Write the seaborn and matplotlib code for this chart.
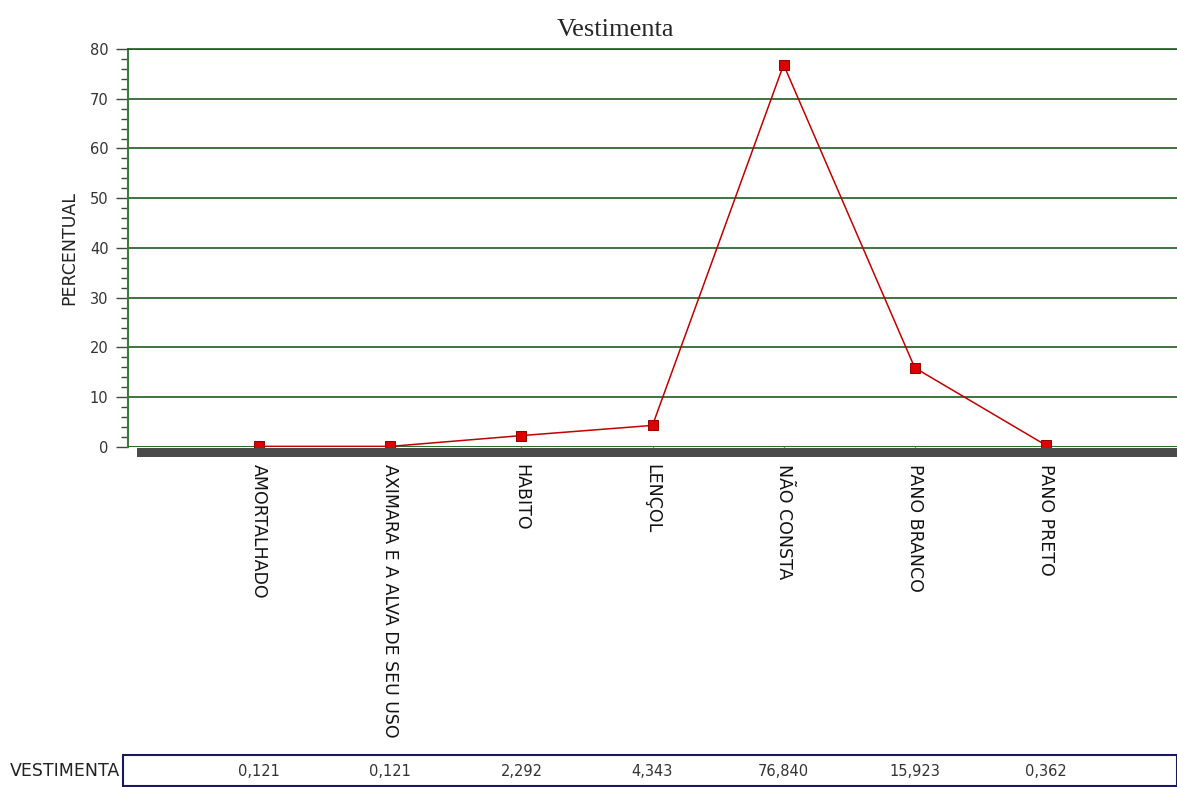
import matplotlib
matplotlib.use("Agg")
import matplotlib.pyplot as plt
import matplotlib.transforms as mtransforms
from matplotlib.patches import Rectangle
from matplotlib.ticker import MultipleLocator
import seaborn as sns
import pandas as pd

categorias = ["AMORTALHADO", "AXIMARA E A ALVA DE SEU USO", "HABITO", "LENÇOL",
              "NÃO CONSTA", "PANO BRANCO", "PANO PRETO"]
percentual = [0.121, 0.121, 2.292, 4.343, 76.840, 15.923, 0.362]
rotulos_tabela = ["0,121", "0,121", "2,292", "4,343", "76,840", "15,923", "0,362"]

df = pd.DataFrame({"categoria": categorias, "percentual": percentual})

sns.set_style("white")
plt.rcParams["font.family"] = ["DejaVu Sans"]

fig = plt.figure(figsize=(11.77, 7.87), dpi=100)
ax = fig.add_axes([128 / 1177, 1 - 447 / 787, 1 - 128 / 1177, (447 - 49) / 787])

sns.lineplot(data=df, x="categoria", y="percentual", ax=ax, sort=False,
             color="#c00000", linewidth=1.1, marker="s", markersize=7.5,
             markerfacecolor="#dd0000", markeredgecolor="#990000", zorder=5)

ax.set_xlim(-1, 7)
ax.set_ylim(0, 80)
ax.yaxis.set_major_locator(MultipleLocator(10))
ax.yaxis.set_minor_locator(MultipleLocator(2))
ax.grid(axis="y", color="#1f5a1f", linewidth=1.2)
ax.set_axisbelow(True)

for s in ["right", "bottom"]:
    ax.spines[s].set_visible(False)
ax.spines["top"].set_color("#1f5a1f")
ax.spines["top"].set_linewidth(1.2)
ax.spines["left"].set_color("#3a7a3a")
ax.spines["left"].set_linewidth(1.5)

ax.tick_params(axis="y", which="major", length=9, width=1, color="#444444",
               labelsize=10.5, labelcolor="#333333", left=True, pad=5)
ax.tick_params(axis="y", which="minor", length=5, width=1, color="#444444", left=True)
ax.tick_params(axis="x", length=6, width=1, color="#222222", pad=6,
               labelsize=12.5, labelcolor="#111111", bottom=True)
plt.setp(ax.get_xticklabels(), rotation=-90, va="top", ha="center")

ax.set_xlabel("")
ax.set_ylabel("PERCENTUAL", fontsize=12.5, color="#222222", labelpad=8)
ax.set_title("Vestimenta", fontsize=19, family="Liberation Serif", pad=9,
             x=(615 - 128) / 1049)

# floor band under the plot
ax.axhline(0, color="#2e6b2e", linewidth=1.5, zorder=3)
fig.patches.append(Rectangle((137 / 1177, 1 - 457 / 787), 1 - 137 / 1177, 9 / 787,
                             transform=fig.transFigure, facecolor="#4a4a4a",
                             edgecolor="none", zorder=1))

# data table row
fig.patches.append(Rectangle((123 / 1177, 1 - 786 / 787), 1 - 123 / 1177, 31 / 787,
                             transform=fig.transFigure, facecolor="none",
                             edgecolor="#1a1a5a", linewidth=1.5, zorder=-1))
fig.text(10 / 1177, 1 - 771 / 787, "VESTIMENTA", fontsize=12.5, va="center",
         ha="left", color="#222222")
trans = mtransforms.blended_transform_factory(ax.transData, fig.transFigure)
for i, lab in enumerate(rotulos_tabela):
    ax.text(i, 1 - 771 / 787, lab, transform=trans, ha="center", va="center",
            fontsize=10.5, color="#333333", clip_on=False)

fig.savefig("out.png", dpi=100)
